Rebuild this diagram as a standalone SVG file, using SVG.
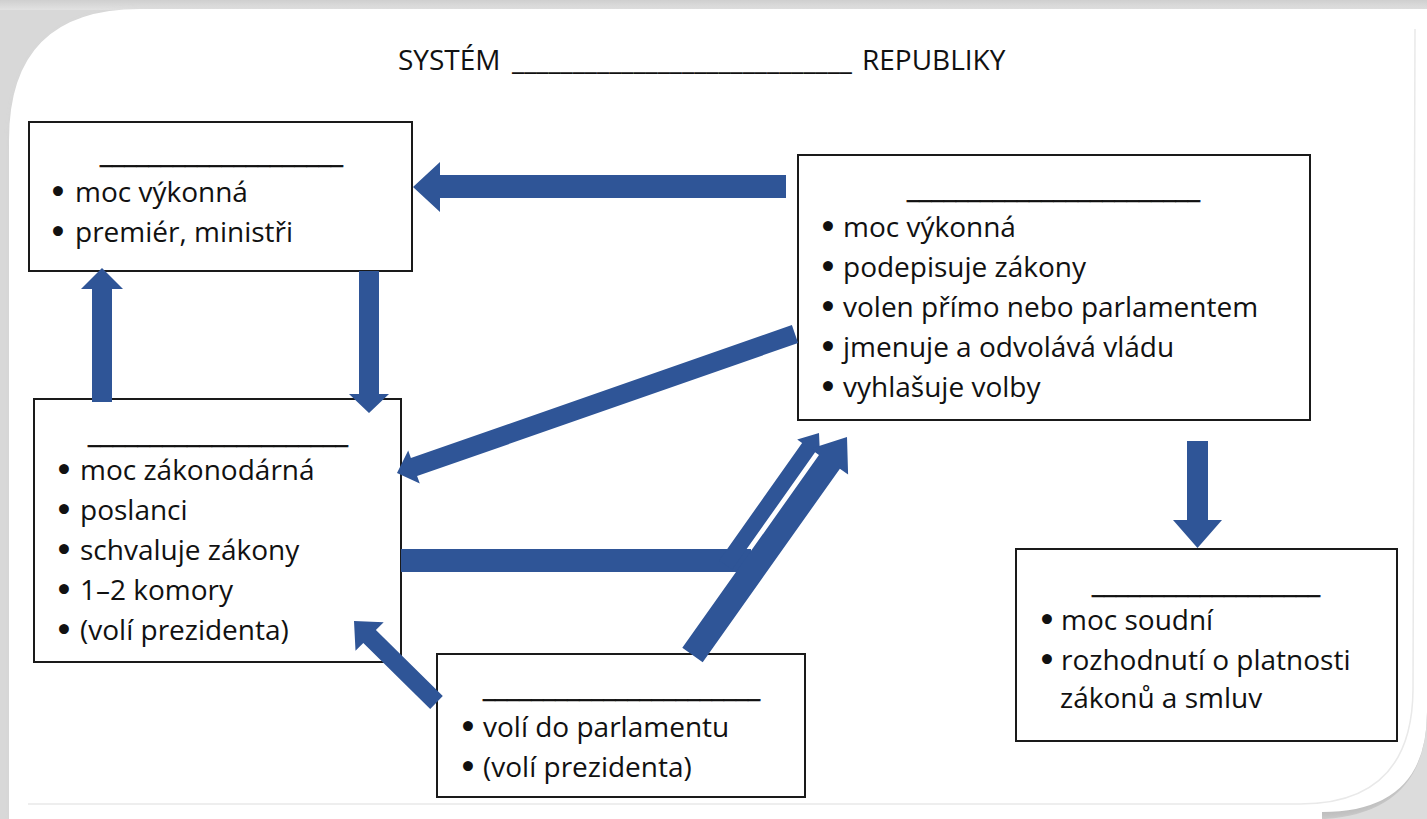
<svg xmlns="http://www.w3.org/2000/svg" width="1427" height="819" viewBox="0 0 1427 819">
  <defs>
    <linearGradient id="topShade" x1="0" y1="0" x2="0" y2="1">
      <stop offset="0" stop-color="#cfcfcf"/>
      <stop offset="1" stop-color="#e2e2e2"/>
    </linearGradient>
    <filter id="pageShadow" x="-5%" y="-5%" width="110%" height="110%">
      <feGaussianBlur stdDeviation="4"/>
    </filter>
  </defs>
  <style>
    .box { fill: #ffffff; stroke: #1a1a1a; stroke-width: 2; }
    .t { font-family: "Open Sans", "Noto Sans", "Liberation Sans", sans-serif; font-size: 28px; fill: #111111; }
    .b { font-family: "DejaVu Sans", sans-serif; font-weight: bold; }
    .blank { font-family: "Open Sans", "Noto Sans", "Liberation Sans", sans-serif; font-size: 28px; fill: #111111; stroke: #111111; stroke-width: 0.7; }
    .arrow { fill: #2f5597; stroke: none; }
    .frame { fill: none; stroke: #e9e9e9; stroke-width: 1.5; }
  </style>

  <!-- page background -->
  <rect x="0" y="0" width="1427" height="819" fill="#d8d8d8"/>
  <rect x="0" y="0" width="1427" height="10" fill="url(#topShade)"/>
  <path d="M14,150 Q14,14 150,14 L1427,14 L1427,712 Q1427,819 1320,819 L14,819 Z" fill="#bdbdbd" filter="url(#pageShadow)"/>
  <path d="M9,140 Q9,9 140,9 L1427,9 L1427,712 Q1427,812 1322,812 L1322,819 L9,819 Z" fill="#ffffff"/>
  <path d="M1427,712 Q1427,812 1325,819 L1427,819 Z" fill="#dcdcdc"/>
  <path class="frame" d="M28,804 L1300,804 Q1412,804 1413,690 L1415,29"/>

  <!-- title -->
  <g id="title">
    <text class="t" y="70"><tspan x="398">SYSTÉM</tspan><tspan x="512" textLength="340" lengthAdjust="spacingAndGlyphs">____________________________</tspan><tspan x="862">REPUBLIKY</tspan></text>
  </g>

  <!-- vláda -->
  <g id="vlada">
    <rect class="box" x="29" y="122" width="383" height="149"/>
    <text class="blank" x="100" y="163" textLength="243" lengthAdjust="spacingAndGlyphs">____________________</text>
    <text class="t" y="202"><tspan class="b" x="49">•</tspan><tspan x="75">moc výkonná</tspan></text>
    <text class="t" y="242"><tspan class="b" x="49">•</tspan><tspan x="75">premiér, ministři</tspan></text>
  </g>

  <!-- parlament -->
  <g id="parlament">
    <rect class="box" x="34" y="399" width="367" height="263"/>
    <text class="blank" x="88" y="443" textLength="260" lengthAdjust="spacingAndGlyphs">_____________________</text>
    <text class="t" y="480"><tspan class="b" x="55">•</tspan><tspan x="80">moc zákonodárná</tspan></text>
    <text class="t" y="520"><tspan class="b" x="55">•</tspan><tspan x="80">poslanci</tspan></text>
    <text class="t" y="560"><tspan class="b" x="55">•</tspan><tspan x="80">schvaluje zákony</tspan></text>
    <text class="t" y="600"><tspan class="b" x="55">•</tspan><tspan x="80">1–2 komory</tspan></text>
    <text class="t" y="640"><tspan class="b" x="55">•</tspan><tspan x="80">(volí prezidenta)</tspan></text>
  </g>

  <!-- prezident -->
  <g id="prezident">
    <rect class="box" x="798" y="155" width="512" height="265"/>
    <text class="blank" x="907" y="198" textLength="293" lengthAdjust="spacingAndGlyphs">________________________</text>
    <text class="t" y="237"><tspan class="b" x="819">•</tspan><tspan x="843">moc výkonná</tspan></text>
    <text class="t" y="277"><tspan class="b" x="819">•</tspan><tspan x="843">podepisuje zákony</tspan></text>
    <text class="t" y="317"><tspan class="b" x="819">•</tspan><tspan x="843">volen přímo nebo parlamentem</tspan></text>
    <text class="t" y="357"><tspan class="b" x="819">•</tspan><tspan x="843">jmenuje a odvolává vládu</tspan></text>
    <text class="t" y="397"><tspan class="b" x="819">•</tspan><tspan x="843">vyhlašuje volby</tspan></text>
  </g>

  <!-- soudy -->
  <g id="soudy">
    <rect class="box" x="1016" y="549" width="381" height="192"/>
    <text class="blank" x="1092" y="593" textLength="228" lengthAdjust="spacingAndGlyphs">___________________</text>
    <text class="t" y="630"><tspan class="b" x="1038">•</tspan><tspan x="1061">moc soudní</tspan></text>
    <text class="t" y="670"><tspan class="b" x="1038">•</tspan><tspan x="1061">rozhodnutí o platnosti</tspan></text>
    <text class="t" x="1060" y="708">zákonů a smluv</text>
  </g>

  <!-- občané -->
  <g id="obcane">
    <rect class="box" x="437" y="654" width="368" height="143"/>
    <text class="blank" x="483" y="697" textLength="277" lengthAdjust="spacingAndGlyphs">_______________________</text>
    <text class="t" y="737"><tspan class="b" x="459">•</tspan><tspan x="483">volí do parlamentu</tspan></text>
    <text class="t" y="777"><tspan class="b" x="459">•</tspan><tspan x="483">(volí prezidenta)</tspan></text>
  </g>

  <!-- connectors -->
  <g id="connectors">
    <polygon class="arrow" points="786,175 440,175 440,162 413,187 440,212 440,198 786,198"/>
    <polygon class="arrow" points="92,402 92,289 81,289 102,268 123,289 112,289 112,402"/>
    <polygon class="arrow" points="359,271 359,394 349,394 369,413 389,394 379,394 379,271"/>
    <polygon class="arrow" points="1187,441 1187,520 1173,520 1197.5,548 1222,520 1208,520 1208,441"/>
    <polygon class="arrow" points="791.9,325 410.9,458.1 408.2,450.6 397,473 419.8,483.6 417.1,476.1 798.1,343"/>
    <polygon class="arrow" points="442.8,696.1 375.9,630.1 383.7,622.3 354,621 355.5,650.7 363.3,642.9 430.2,708.9"/>
    <rect class="arrow" x="401" y="549" width="350" height="23"/>
    <polygon class="arrow" points="719.1,560.4 802.1,443.1 797.2,439.6 819,433 820,455.8 815.1,452.3 732.1,569.6"/>
    <polygon class="arrow" points="682.3,647.8 819.5,454.3 811.3,448.5 847,437 848.1,474.5 839.9,468.7 702.7,662.2"/>
  </g>
</svg>
